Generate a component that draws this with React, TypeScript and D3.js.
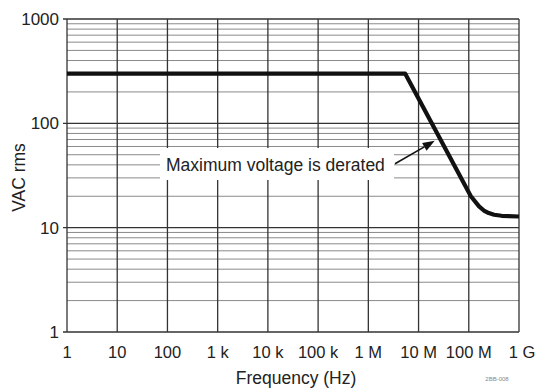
import React from "react";
import * as d3 from "d3";

const xTickValues = [1, 1e1, 1e2, 1e3, 1e4, 1e5, 1e6, 1e7, 1e8, 1e9];
const xTickLabels = ["1", "10", "100", "1 k", "10 k", "100 k", "1 M", "10 M", "100 M", "1 G"];
const yTickValues = [1, 10, 100, 1000];
const yTickLabels = ["1", "10", "100", "1000"];

const freqHz = [1, 5.4e6, 1.1e8, 1.6e8, 2.0e8, 2.5e8, 3.2e8, 4.5e8, 1e9];
const vacRms = [300, 300, 20, 16, 14.6, 13.8, 13.3, 13.0, 12.8];

const annotationText = "Maximum voltage is derated";
const arrowFrom = { f: 3.4e6, v: 41 };
const arrowTo = { f: 2.1e7, v: 68 };

const W = 539;
const H = 390;
const left = 67;
const right = 519;
const top = 19;
const bottom = 332;

export default function App() {
  const x = d3.scaleLog().domain([1, 1e9]).range([left, right]);
  const y = d3.scaleLog().domain([1, 1000]).range([bottom, top]);

  const minorY: number[] = [];
  for (let d = 1; d < 1000; d *= 10) {
    for (let m = 2; m <= 9; m++) minorY.push(d * m);
  }

  const line = d3
    .line<number>()
    .x((_, i) => x(freqHz[i]))
    .y((v) => y(v))
    .curve(d3.curveLinear);

  const font = "Arial, 'Liberation Sans', Helvetica, sans-serif";

  const sx = x(arrowFrom.f);
  const sy = y(arrowFrom.v);
  const ex = x(arrowTo.f);
  const ey = y(arrowTo.v);
  const ang = Math.atan2(ey - sy, ex - sx);
  const hl = 12, hw = 4.5;
  const bx = ex - hl * Math.cos(ang);
  const by = ey - hl * Math.sin(ang);
  const head = [
    [ex, ey],
    [bx + hw * Math.sin(ang), by - hw * Math.cos(ang)],
    [bx - hw * Math.sin(ang), by + hw * Math.cos(ang)],
  ];

  return (
    <svg
      width={W}
      height={H}
      style={{ position: "absolute", left: 0, top: 0, background: "#fff" }}
      fontFamily={font}
    >
      <rect x={0} y={0} width={W} height={H} fill="#fff" />
      {/* minor horizontal grid */}
      {minorY.map((v) => (
        <line key={"m" + v} x1={left} x2={right} y1={y(v)} y2={y(v)} stroke="#8a8a8a" strokeWidth={1} />
      ))}
      {/* major horizontal grid */}
      {yTickValues.map((v) => (
        <line key={"h" + v} x1={left - 4} x2={right} y1={y(v)} y2={y(v)} stroke="#333" strokeWidth={1.3} />
      ))}
      {/* vertical grid */}
      {xTickValues.map((v) => (
        <line key={"v" + v} x1={x(v)} x2={x(v)} y1={top} y2={bottom} stroke="#333" strokeWidth={1.3} />
      ))}
      {/* annotation background */}
      <rect x={160} y={148} width={234} height={32} fill="#fff" />
      <text x={166} y={171} fontSize={17.5} fill="#222">
        {annotationText}
      </text>
      <line x1={sx} y1={sy} x2={bx} y2={by} stroke="#111" strokeWidth={1.5} />
      <polygon points={head.map((p) => p.join(",")).join(" ")} fill="#111" />
      {/* curve */}
      <path d={line(vacRms) || ""} fill="none" stroke="#111" strokeWidth={4.2} strokeLinejoin="round" />
      {/* y tick labels */}
      {yTickValues.map((v, i) => (
        <text key={"yl" + v} x={59} y={y(v) + 6} fontSize={17} textAnchor="end" fill="#222">
          {yTickLabels[i]}
        </text>
      ))}
      {/* x tick labels */}
      {xTickValues.map((v, i) => (
        <text key={"xl" + v} x={x(v) + (i === xTickValues.length - 1 ? 3 : 0)} y={358} fontSize={16.5} textAnchor="middle" fill="#222">
          {xTickLabels[i]}
        </text>
      ))}
      <text x={(left + right) / 2 + 3} y={384} fontSize={17.5} textAnchor="middle" fill="#222">
        Frequency (Hz)
      </text>
      <text
        transform={`translate(25, ${(top + bottom) / 2 + 2}) rotate(-90)`}
        fontSize={17.5}
        textAnchor="middle"
        fill="#222"
      >
        VAC rms
      </text>
      <text x={497} y={381} fontSize={6} textAnchor="middle" fill="#888">
        2BB-008
      </text>
    </svg>
  );
}
